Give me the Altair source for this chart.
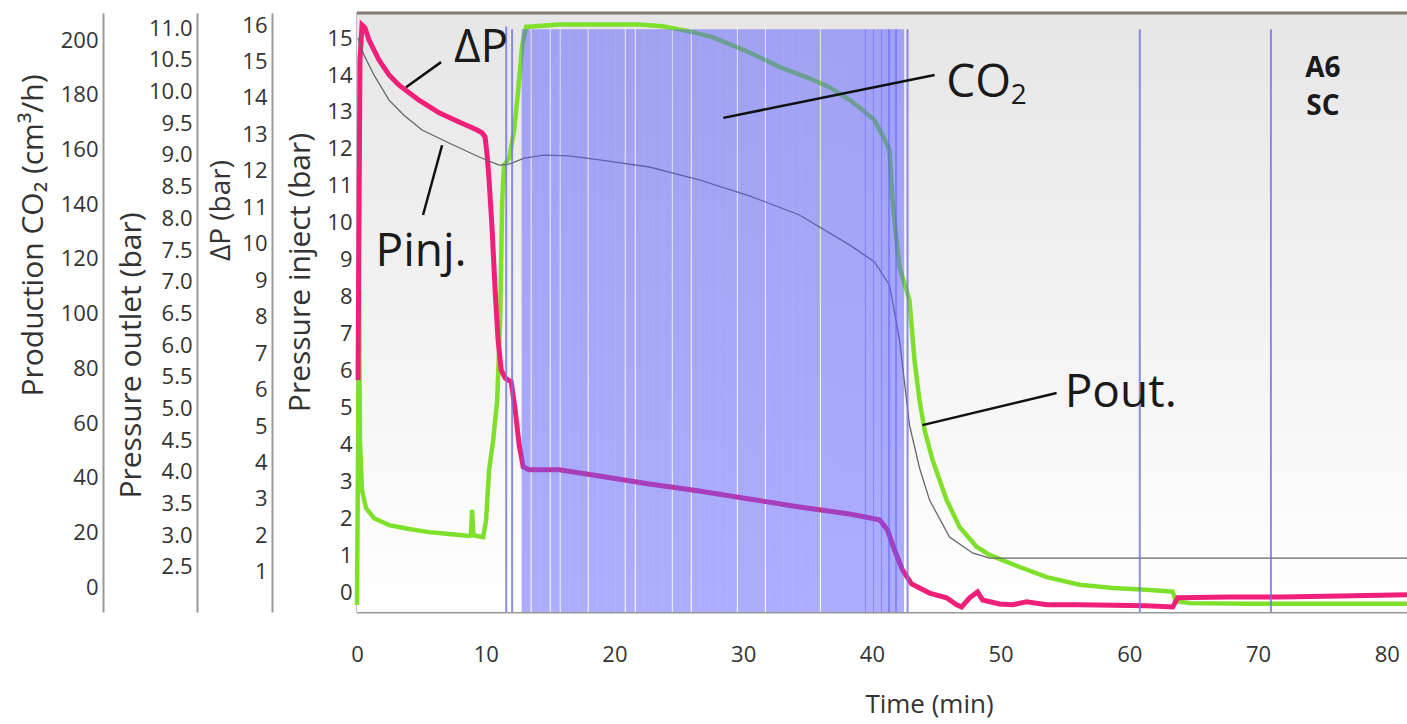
import altair as alt
import pandas as pd

# ---------------- data ----------------
x_ticks = [0, 10, 20, 30, 40, 50, 60, 70, 80]

# Pressure outlet (bar)  -- green
t_pout = [0.00, 0.16, 0.23, 0.39, 0.70, 1.32, 2.49, 4.04, 5.60, 7.15,
          8.71, 8.85, 8.94, 9.05, 9.80, 10.03, 10.26, 10.58, 10.89, 11.12,
          11.28, 11.43, 11.82, 12.21, 12.52, 12.83, 13.14, 15.71, 18.82, 21.93,
          23.72, 25.82, 27.61, 30.48, 32.81, 35.15, 36.70, 38.26, 39.27, 40.20,
          40.82, 41.37, 41.60, 41.91, 42.15, 42.92, 43.31, 43.70, 44.09, 44.71,
          45.80, 46.81, 48.13, 49.14, 51.48, 53.58, 56.14, 58.71, 61.35, 63.37,
          63.61, 64.70, 69.36, 74.81, 81.57]
pout = [1.90, 6.87, 4.50, 3.71, 3.43, 3.27, 3.16, 3.10, 3.05, 3.02,
        2.99, 3.00, 3.40, 3.00, 2.97, 3.24, 4.03, 4.50, 5.13, 6.40,
        8.29, 8.84, 8.95, 9.39, 10.02, 10.73, 11.02, 11.06, 11.06, 11.06,
        11.03, 10.95, 10.86, 10.62, 10.39, 10.21, 10.07, 9.87, 9.71, 9.55,
        9.31, 9.08, 8.29, 7.66, 7.23, 6.71, 5.76, 5.13, 4.66, 4.19,
        3.56, 3.13, 2.82, 2.69, 2.50, 2.34, 2.22, 2.17, 2.14, 2.11,
        1.96, 1.93, 1.92, 1.92, 1.92]

# Delta P (bar) -- magenta
t_dp = [0.08, 0.23, 0.39, 0.62, 0.93, 1.71, 2.49, 3.27, 4.82, 6.38,
        7.93, 9.33, 9.72, 9.95, 10.11, 10.26, 10.50, 10.73, 10.96, 11.20,
        11.51, 11.98, 12.29, 12.60, 12.91, 13.37, 15.71, 18.82, 22.71, 26.59,
        30.48, 34.37, 38.26, 40.59, 41.21, 41.76, 42.38, 43.08, 44.48, 45.80,
        46.58, 46.97, 47.59, 48.21, 48.60, 49.92, 50.93, 52.02, 53.58, 56.14,
        61.35, 63.37, 63.76, 67.81, 71.70, 76.36, 81.57]
dp = [6.26, 15.04, 16.00, 15.92, 15.59, 15.04, 14.63, 14.35, 13.94, 13.59,
      13.34, 13.12, 13.04, 12.93, 12.43, 11.75, 10.38, 8.73, 7.36, 6.54,
      6.32, 6.21, 5.44, 4.48, 3.88, 3.80, 3.80, 3.63, 3.41, 3.22,
      3.00, 2.78, 2.59, 2.43, 2.15, 1.60, 1.05, 0.67, 0.42, 0.29,
      0.10, 0.04, 0.29, 0.45, 0.23, 0.12, 0.10, 0.18, 0.10, 0.10,
      0.07, 0.04, 0.29, 0.31, 0.31, 0.34, 0.37]

# Pressure inject (bar) -- thin grey
t_pinj = [0.08, 0.54, 1.32, 2.49, 3.65, 5.05, 7.15, 9.49, 11.04, 11.82,
          12.99, 14.54, 16.49, 18.82, 22.71, 26.59, 30.48, 34.37, 38.26, 40.20,
          41.37, 42.15, 42.92, 43.70, 44.48, 46.03, 47.82, 49.14, 81.57]
pinj = [15.00, 14.54, 14.00, 13.32, 12.91, 12.51, 12.16, 11.78, 11.56, 11.59,
        11.75, 11.83, 11.81, 11.70, 11.51, 11.16, 10.73, 10.21, 9.40, 8.94,
        8.31, 6.82, 4.52, 3.36, 2.49, 1.49, 1.06, 0.92, 0.92]

# Production CO2 (cm3/h) -- pulses
pulse_time = [13.14, 13.92, 14.62, 15.40, 16.17, 16.87, 17.57, 18.35, 19.05, 19.75,
              20.45, 21.23, 22.01, 22.71, 23.41, 24.11, 24.88, 25.58, 26.36, 27.06,
              27.76, 28.46, 29.16, 29.94, 30.64, 31.34, 32.12, 32.81, 33.51, 34.21,
              34.91, 35.61, 36.39, 37.09, 37.79, 38.49, 39.19, 39.81, 40.44, 41.06,
              41.60, 42.15]
pulse_co2 = [204, 204, 204, 204, 204, 204, 204, 204, 204, 204,
             204, 204, 204, 204, 204, 204, 204, 204, 204, 204,
             204, 204, 204, 204, 204, 204, 204, 204, 204, 204,
             204, 204, 204, 204, 204, 204, 204, 204, 204, 204,
             204, 204]
single_time = [11.59, 12.05, 42.77, 60.81, 71.00]
single_co2 = [205, 204, 204, 204, 204]

# annotations (time, Pressure inject)
ann_text = ["ΔP", "Pinj.", "CO", "Pout."]
ann_t = [9.64, 4.98, 48.29, 59.33]
ann_v = [14.35, 8.83, 13.40, 5.01]
sub_text = ["2"]
sub_t = [51.40]
sub_v = [13.21]
tag_text = ["A6", "SC"]
tag_t = [75.04, 75.04]
tag_v = [13.95, 12.92]
ptr_t1 = [3.81, 5.13, 28.46, 43.93]
ptr_v1 = [13.67, 10.21, 12.84, 4.52]
ptr_t2 = [6.53, 6.61, 44.87, 54.35]
ptr_v2 = [14.35, 12.10, 14.00, 5.39]

# ---------------- chart ----------------
W, H = 1050, 599
FONT = "Open Sans"
X_DOMAIN = [0, 81.57]
xscale = alt.Scale(domain=X_DOMAIN, nice=False, zero=False)
inj_scale = alt.Scale(domain=[-0.54, 15.68], nice=False, zero=False)
dp_scale = alt.Scale(domain=[-0.10, 16.33], nice=False, zero=False)
out_scale = alt.Scale(domain=[1.79, 11.24], nice=False, zero=False)
prod_scale = alt.Scale(domain=[-9.1, 209.9], nice=False, zero=False)

LBL = 22

def yaxis(offset, values, title, tx, ty, tsize=30, domain=True, fmt=None):
    kw = dict(orient="left", offset=offset, values=values, title=title,
              ticks=False, grid=False, labelPadding=5, labelFontSize=LBL,
              labelFont=FONT, labelColor="#333333",
              titleFont=FONT, titleFontSize=tsize, titleFontWeight="normal",
              titleColor="#333333", titleX=tx, titleY=ty,
              titleAngle=270, titleBaseline="middle", titleAlign="center",
              domain=domain, domainColor="#999999", domainWidth=2)
    if fmt:
        kw["format"] = fmt
    return alt.Axis(**kw)

x_axis = alt.Axis(values=x_ticks, title="Time (min)", ticks=False, grid=False,
                  labelFlush=False, labelFontSize=LBL, labelFont=FONT,
                  labelColor="#333333", labelPadding=42, labelBaseline="middle",
                  titleFont=FONT, titleFontSize=26, titleFontWeight="normal",
                  titleColor="#333333", titleX=572, titleY=92,
                  titleBaseline="middle", domainColor="#999999", domainWidth=2)


def X(field="t:Q"):
    return alt.X(field, scale=xscale, axis=x_axis)


bg = alt.Chart(alt.Data(values=[{}])).mark_rect(
    color=alt.LinearGradient(
        gradient="linear",
        stops=[alt.GradientStop(color="#e6e6e6", offset=0),
               alt.GradientStop(color="#f6f6f6", offset=0.65),
               alt.GradientStop(color="#ffffff", offset=1)],
        x1=0, x2=0, y1=0, y2=1)
).encode(x=alt.value(0), x2=alt.value(W), y=alt.value(0), y2=alt.value(H))

pout_line = alt.Chart(pd.DataFrame({"t": t_pout, "v": pout})).mark_line(
    color="#7fe02c", strokeWidth=4.5).encode(
    x=X(),
    y=alt.Y("v:Q", scale=out_scale,
            axis=yaxis(160, [2.5, 3.0, 3.5, 4.0, 4.5, 5.0, 5.5, 6.0, 6.5, 7.0, 7.5,
                             8.0, 8.5, 9.0, 9.5, 10.0, 10.5, 11.0],
                       "Pressure outlet (bar)", -66, 342, fmt=".1f")))

dp_line = alt.Chart(pd.DataFrame({"t": t_dp, "v": dp})).mark_line(
    color="#f0207a", strokeWidth=5).encode(
    x=X(),
    y=alt.Y("v:Q", scale=dp_scale,
            axis=yaxis(85, list(range(1, 17)), "ΔP (bar)", -51, 197, tsize=28)))

pinj_line = alt.Chart(pd.DataFrame({"t": t_pinj, "v": pinj})).mark_line(
    color="#666666", strokeWidth=1.3).encode(
    x=X(),
    y=alt.Y("v:Q", scale=inj_scale,
            axis=yaxis(0, list(range(0, 16)), "Pressure inject (bar)", -57, 259,
                       domain=False)))

pulses = alt.Chart(pd.DataFrame({"t": pulse_time, "c": pulse_co2})).mark_rule(
    color="#5c5cff", opacity=0.5, strokeWidth=9).encode(
    x=X(),
    y=alt.Y("c:Q", scale=prod_scale,
            axis=yaxis(254, list(range(0, 201, 20)), "Production CO₂ (cm³/h)", -70, 222)),
    y2=alt.value(H))

singles = alt.Chart(pd.DataFrame({"t": single_time, "c": single_co2})).mark_rule(
    color="#7070e8", opacity=0.8, strokeWidth=2).encode(
    x=X(),
    y=alt.Y("c:Q", scale=prod_scale, axis=None),
    y2=alt.value(H))

top_border = alt.Chart(alt.Data(values=[{}])).mark_rule(
    color="#857a75", strokeWidth=3).encode(y=alt.value(0))

ptrs = alt.Chart(pd.DataFrame({"t1": ptr_t1, "v1": ptr_v1, "t2": ptr_t2, "v2": ptr_v2})).mark_rule(
    color="#111111", strokeWidth=2.5).encode(
    x=X("t1:Q"), x2="t2:Q",
    y=alt.Y("v1:Q", scale=inj_scale, axis=None), y2="v2:Q")

labels = alt.Chart(pd.DataFrame({"t": ann_t, "v": ann_v, "s": ann_text})).mark_text(
    font=FONT, fontSize=46, color="#1a1a1a", align="center", baseline="alphabetic").encode(
    x=X(),
    y=alt.Y("v:Q", scale=inj_scale, axis=None), text="s:N")

sub = alt.Chart(pd.DataFrame({"t": sub_t, "v": sub_v, "s": sub_text})).mark_text(
    font=FONT, fontSize=28, color="#1a1a1a", align="center", baseline="alphabetic").encode(
    x=X(),
    y=alt.Y("v:Q", scale=inj_scale, axis=None), text="s:N")

tags = alt.Chart(pd.DataFrame({"t": tag_t, "v": tag_v, "s": tag_text})).mark_text(
    font=FONT, fontSize=28, fontWeight="bold", color="#1a1a1a", align="center",
    baseline="alphabetic").encode(
    x=X(),
    y=alt.Y("v:Q", scale=inj_scale, axis=None), text="s:N")

chart = alt.layer(
    bg, pout_line, dp_line, pinj_line, pulses, singles, top_border, ptrs, labels, sub, tags
).resolve_scale(y="independent").properties(
    width=W, height=H,
    padding={"left": 357, "top": 13, "right": 0, "bottom": 112},
    autosize=alt.AutoSizeParams(type="none"),
    background="#ffffff",
).configure_view(stroke="#a8a8a8", strokeWidth=1.5)

chart.save("out.html", embed_options={"renderer": "svg", "actions": False})
